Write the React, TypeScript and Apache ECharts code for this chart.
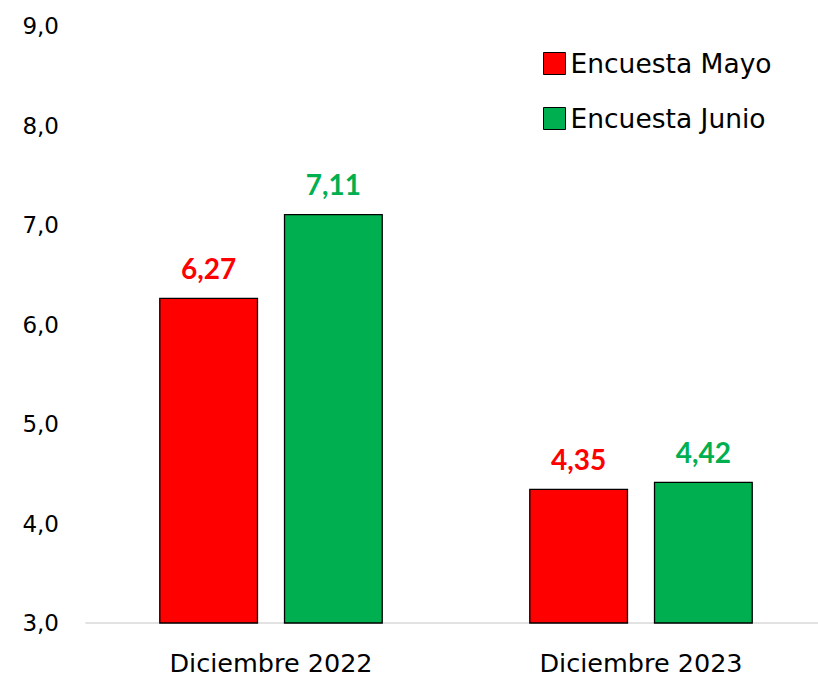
import React, { useEffect, useRef } from "react";
import * as echarts from "echarts";

const categories = ["Diciembre 2022", "Diciembre 2023"];
const mayo = [6.27, 4.35];
const junio = [7.11, 4.42];
const seriesNames = ["Encuesta Mayo", "Encuesta Junio"];
const colors = ["#FF0000", "#00B050"];

const fmt = (v: number, d: number) => v.toFixed(d).replace(".", ",");

export default function App() {
  const ref = useRef<HTMLDivElement>(null);
  useEffect(() => {
    const chart = echarts.init(ref.current!, null, { renderer: "svg" });
    const font = "'DejaVu Sans', sans-serif";
    const boldFont = "Lato, 'Open Sans', sans-serif";
    const mk = (name: string, data: number[], color: string) => ({
      name,
      type: "bar",
      data,
      barWidth: 99,
      barGap: "26%",
      itemStyle: { color, borderColor: "#000", borderWidth: 1.3 },
      label: {
        show: true,
        position: "top",
        distance: 16,
        color,
        fontFamily: boldFont,
        fontWeight: "bold",
        fontSize: 28,
        formatter: (p: any) => fmt(p.value, 2),
      },
    });
    chart.setOption({
      animation: false,
      grid: { left: 86, width: 740, top: 26, bottom: 55, containLabel: false },
      legend: {
        left: 538,
        top: 45,
        orient: "vertical",
        itemWidth: 22,
        itemHeight: 22,
        itemGap: 28,
        icon: "rect",
        textStyle: { fontFamily: font, fontSize: 26.5, color: "#000" },
        itemStyle: { borderColor: "#000", borderWidth: 1 },
        data: seriesNames,
      },
      xAxis: {
        type: "category",
        data: categories,
        axisLine: { lineStyle: { color: "#D9D9D9", width: 1.5 } },
        axisTick: { show: false },
        axisLabel: { color: "#000", fontFamily: font, fontSize: 25.5, margin: 27 },
      },
      yAxis: {
        type: "value",
        min: 3,
        max: 9,
        interval: 1,
        splitLine: { show: false },
        axisLine: { show: false },
        axisTick: { show: false },
        axisLabel: {
          color: "#000",
          fontFamily: font,
          fontSize: 23,
          margin: 27,
          formatter: (v: number) => fmt(v, 1),
        },
      },
      series: [mk(seriesNames[0], mayo, colors[0]), mk(seriesNames[1], junio, colors[1])],
    });
    return () => chart.dispose();
  }, []);
  return (
    <div
      style={{
        position: "absolute",
        left: 0,
        top: 0,
        width: 818,
        height: 678,
        overflow: "hidden",
        background: "#fff",
      }}
    >
      <div ref={ref} style={{ position: "absolute", left: 0, top: 0, width: 840, height: 678 }} />
    </div>
  );
}
